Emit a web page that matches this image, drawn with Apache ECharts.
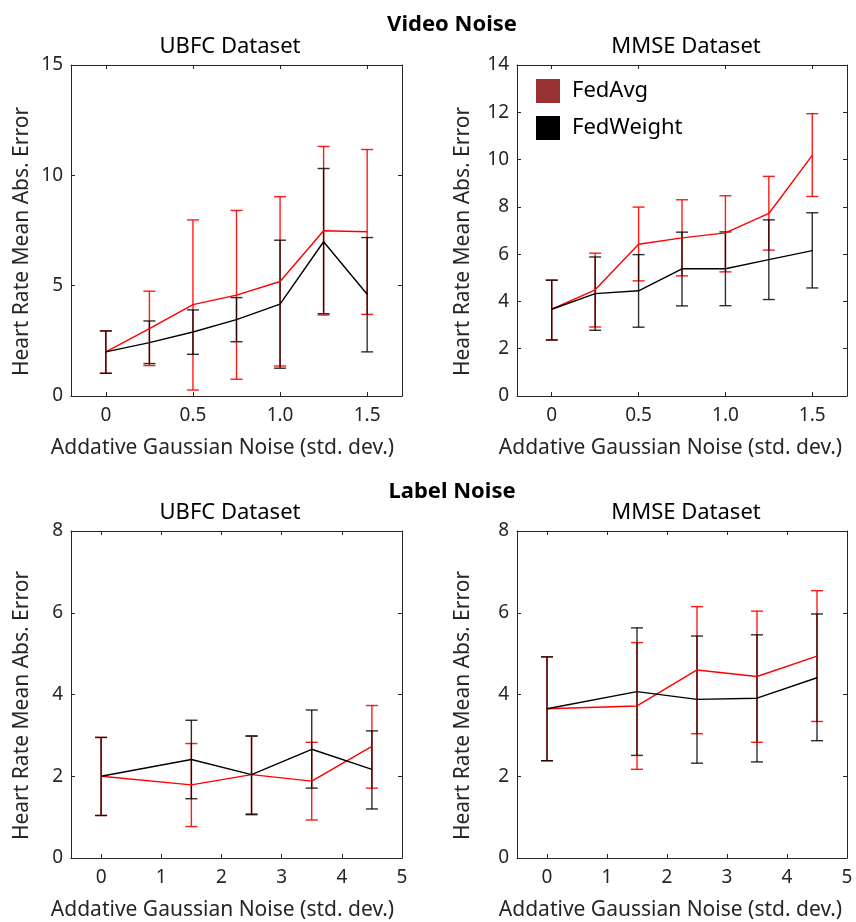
<!DOCTYPE html>
<html>
<head>
<meta charset="utf-8">
<script src="https://cdn.jsdelivr.net/npm/echarts@6/dist/echarts.min.js"></script>
<style>html,body{margin:0;padding:0;background:#fff}#c{width:856px;height:922px}</style>
</head>
<body>
<div id="c"></div>
<script>
// ---- data ----
const xVideo = [0, 0.25, 0.5, 0.75, 1.0, 1.25, 1.5];
const xLabel = [0, 1.5, 2.5, 3.5, 4.5];

// Video noise, UBFC
const ubfcVideoAvgMean = [2.0, 3.05, 4.14, 4.57, 5.19, 7.49, 7.44];
const ubfcVideoAvgHigh = [2.95, 4.75, 7.98, 8.41, 9.03, 11.31, 11.17];
const ubfcVideoAvgLow  = [1.03, 1.38, 0.27, 0.76, 1.36, 3.67, 3.70];
const ubfcVideoWMean   = [2.0, 2.42, 2.90, 3.46, 4.16, 6.99, 4.61];
const ubfcVideoWHigh   = [2.95, 3.40, 3.90, 4.46, 7.06, 10.31, 7.18];
const ubfcVideoWLow    = [1.03, 1.47, 1.89, 2.46, 1.26, 3.73, 2.0];

// Video noise, MMSE
const mmseVideoAvgMean = [3.67, 4.49, 6.42, 6.69, 6.90, 7.72, 10.18];
const mmseVideoAvgHigh = [4.90, 6.04, 7.99, 8.30, 8.47, 9.29, 11.94];
const mmseVideoAvgLow  = [2.37, 2.92, 4.87, 5.08, 5.25, 6.17, 8.44];
const mmseVideoWMean   = [3.67, 4.33, 4.45, 5.38, 5.38, 5.77, 6.15];
const mmseVideoWHigh   = [4.90, 5.88, 5.98, 6.93, 6.94, 7.45, 7.75];
const mmseVideoWLow    = [2.37, 2.78, 2.91, 3.81, 3.82, 4.08, 4.57];

// Label noise, UBFC
const ubfcLabelAvgMean = [2.0, 1.79, 2.04, 1.88, 2.73];
const ubfcLabelAvgHigh = [2.95, 2.80, 2.99, 2.83, 3.73];
const ubfcLabelAvgLow  = [1.04, 0.77, 1.08, 0.93, 1.71];
const ubfcLabelWMean   = [2.0, 2.41, 2.04, 2.66, 2.17];
const ubfcLabelWHigh   = [2.95, 3.37, 2.98, 3.62, 3.11];
const ubfcLabelWLow    = [1.04, 1.45, 1.06, 1.71, 1.20];

// Label noise, MMSE
const mmseLabelAvgMean = [3.65, 3.72, 4.60, 4.44, 4.94];
const mmseLabelAvgHigh = [4.92, 5.27, 6.15, 6.04, 6.54];
const mmseLabelAvgLow  = [2.38, 2.17, 3.04, 2.83, 3.34];
const mmseLabelWMean   = [3.65, 4.07, 3.88, 3.91, 4.41];
const mmseLabelWHigh   = [4.92, 5.63, 5.43, 5.46, 5.97];
const mmseLabelWLow    = [2.38, 2.51, 2.32, 2.35, 2.87];

const videoTicks = [0, 0.5, 1.0, 1.5];
const labelTicks = [0, 1, 2, 3, 4, 5];

const seriesNames = ['FedAvg', 'FedWeight'];
const superTitles = ['Video Noise', 'Label Noise'];
const panelTitles = ['UBFC Dataset', 'MMSE Dataset', 'UBFC Dataset', 'MMSE Dataset'];
const xName = 'Addative Gaussian Noise (std. dev.)';
const yName = 'Heart Rate Mean Abs. Error';

// ---- layout ----
const FONT = 'Noto Sans';
const TXT = '#262626';
const panels = [
  {x: xVideo, grid: {left: 71, top: 65, width: 331, height: 331}, xmin: -0.2, xmax: 1.7, xticks: videoTicks, ymax: 15, yint: 5, yGap: 38, xPad: 28,
   avg: [ubfcVideoAvgMean, ubfcVideoAvgLow, ubfcVideoAvgHigh], w: [ubfcVideoWMean, ubfcVideoWLow, ubfcVideoWHigh], fmt: v => v === 0 ? '0' : v.toFixed(1)},
  {x: xVideo, grid: {left: 517, top: 65, width: 330, height: 331}, xmin: -0.2, xmax: 1.7, xticks: videoTicks, ymax: 14, yint: 2, yGap: 43, xPad: 23,
   avg: [mmseVideoAvgMean, mmseVideoAvgLow, mmseVideoAvgHigh], w: [mmseVideoWMean, mmseVideoWLow, mmseVideoWHigh], fmt: v => v === 0 ? '0' : v.toFixed(1)},
  {x: xLabel, grid: {left: 71, top: 531, width: 331, height: 331}, xmin: -0.5, xmax: 5, xticks: labelTicks, ymax: 8, yint: 2, yGap: 38, xPad: 28,
   avg: [ubfcLabelAvgMean, ubfcLabelAvgLow, ubfcLabelAvgHigh], w: [ubfcLabelWMean, ubfcLabelWLow, ubfcLabelWHigh], fmt: v => String(v)},
  {x: xLabel, grid: {left: 517, top: 531, width: 330, height: 331}, xmin: -0.5, xmax: 5, xticks: labelTicks, ymax: 8, yint: 2, yGap: 43, xPad: 23,
   avg: [mmseLabelAvgMean, mmseLabelAvgLow, mmseLabelAvgHigh], w: [mmseLabelWMean, mmseLabelWLow, mmseLabelWHigh], fmt: v => String(v)}
];

const grids = [], xAxes = [], yAxes = [], series = [];
const axisLine = {show: true, onZero: false, lineStyle: {color: TXT, width: 1}};
const tick = {show: true, inside: true, length: 4, lineStyle: {color: TXT, width: 1}};

function errRender(color, opacity) {
  return function (params, api) {
    const x = api.value(0), lo = api.value(1), hi = api.value(2);
    const a = api.coord([x, hi]), b = api.coord([x, lo]);
    const hw = 6;
    const st = {stroke: color, lineWidth: 1.4, opacity: opacity};
    return {type: 'group', children: [
      {type: 'line', shape: {x1: a[0], y1: a[1], x2: b[0], y2: b[1]}, style: st},
      {type: 'line', shape: {x1: a[0] - hw, y1: a[1], x2: a[0] + hw, y2: a[1]}, style: st},
      {type: 'line', shape: {x1: b[0] - hw, y1: b[1], x2: b[0] + hw, y2: b[1]}, style: st}
    ]};
  };
}

panels.forEach((p, g) => {
  grids.push(Object.assign({containLabel: false}, p.grid));
  xAxes.push({type: 'value', gridIndex: g, position: 'bottom', min: p.xmin, max: p.xmax,
    axisLine: axisLine, axisTick: Object.assign({customValues: p.xticks}, tick), splitLine: {show: false},
    axisLabel: {customValues: p.xticks, formatter: p.fmt, color: TXT, fontFamily: FONT, fontSize: 19, margin: 10},
    name: xName, nameLocation: 'middle', nameGap: 42,
    nameTextStyle: {color: TXT, fontFamily: FONT, fontSize: 21, padding: [0, p.xPad, 0, 0]}});
  xAxes.push({type: 'value', gridIndex: g, position: 'top', min: p.xmin, max: p.xmax,
    axisLine: axisLine, axisTick: Object.assign({customValues: p.xticks}, tick), splitLine: {show: false},
    axisLabel: {show: false}});
  yAxes.push({type: 'value', gridIndex: g, position: 'left', min: 0, max: p.ymax, interval: p.yint,
    axisLine: axisLine, axisTick: tick, splitLine: {show: false},
    axisLabel: {color: TXT, fontFamily: FONT, fontSize: 19, margin: 8},
    name: yName, nameLocation: 'middle', nameGap: p.yGap, nameRotate: 90,
    nameTextStyle: {color: TXT, fontFamily: FONT, fontSize: 21, padding: [0, 22, 0, 0]}});
  yAxes.push({type: 'value', gridIndex: g, position: 'right', min: 0, max: p.ymax, interval: p.yint,
    axisLine: axisLine, axisTick: tick, splitLine: {show: false}, axisLabel: {show: false}});

  const ax = {xAxisIndex: 2 * g, yAxisIndex: 2 * g};
  const avgErr = p.x.map((x, i) => [x, p.avg[1][i], p.avg[2][i]]);
  const wErr = p.x.map((x, i) => [x, p.w[1][i], p.w[2][i]]);
  series.push(Object.assign({type: 'custom', name: seriesNames[0], data: avgErr, renderItem: errRender('#ff0000', 0.9),
    itemStyle: {color: '#993333'}, silent: true, z: 2}, ax));
  series.push(Object.assign({type: 'custom', name: seriesNames[1], data: wErr, renderItem: errRender('#000000', 0.82),
    itemStyle: {color: '#000000'}, silent: true, z: 3}, ax));
  series.push(Object.assign({type: 'line', name: seriesNames[0], data: p.x.map((x, i) => [x, p.avg[0][i]]),
    symbol: 'none', lineStyle: {color: '#ff0000', width: 1.4}, itemStyle: {color: '#993333'}, z: 4, silent: true}, ax));
  series.push(Object.assign({type: 'line', name: seriesNames[1], data: p.x.map((x, i) => [x, p.w[0][i]]),
    symbol: 'none', lineStyle: {color: '#000000', width: 1.4}, itemStyle: {color: '#000000'}, z: 5, silent: true}, ax));
});

const gText = [];
const tPos = [[452, 25], [452, 492]];
superTitles.forEach((t, i) => gText.push({type: 'text', x: tPos[i][0], y: tPos[i][1],
  style: {text: t, fill: '#000', font: 'bold 22px "Noto Sans"', align: 'center', verticalAlign: 'middle'}}));
const sPos = [[230, 47], [686, 47], [230, 513], [686, 513]];
panelTitles.forEach((t, i) => gText.push({type: 'text', x: sPos[i][0], y: sPos[i][1],
  style: {text: t, fill: '#000', font: '22px "Noto Sans"', align: 'center', verticalAlign: 'middle'}}));

const chart = echarts.init(document.getElementById('c'), null, {renderer: 'canvas'});
chart.setOption({
  animation: false,
  backgroundColor: '#fff',
  grid: grids,
  xAxis: xAxes,
  yAxis: yAxes,
  legend: {
    orient: 'vertical', left: 536, top: 79, itemWidth: 24, itemHeight: 24, itemGap: 13, icon: 'rect',
    selectedMode: false, padding: 0,
    data: [{name: seriesNames[0], itemStyle: {color: '#993333'}}, {name: seriesNames[1], itemStyle: {color: '#000000'}}],
    textStyle: {color: '#000', fontFamily: FONT, fontSize: 22, padding: [0, 0, 0, 7]}
  },
  graphic: gText,
  series: series
});
</script>
</body>
</html>
